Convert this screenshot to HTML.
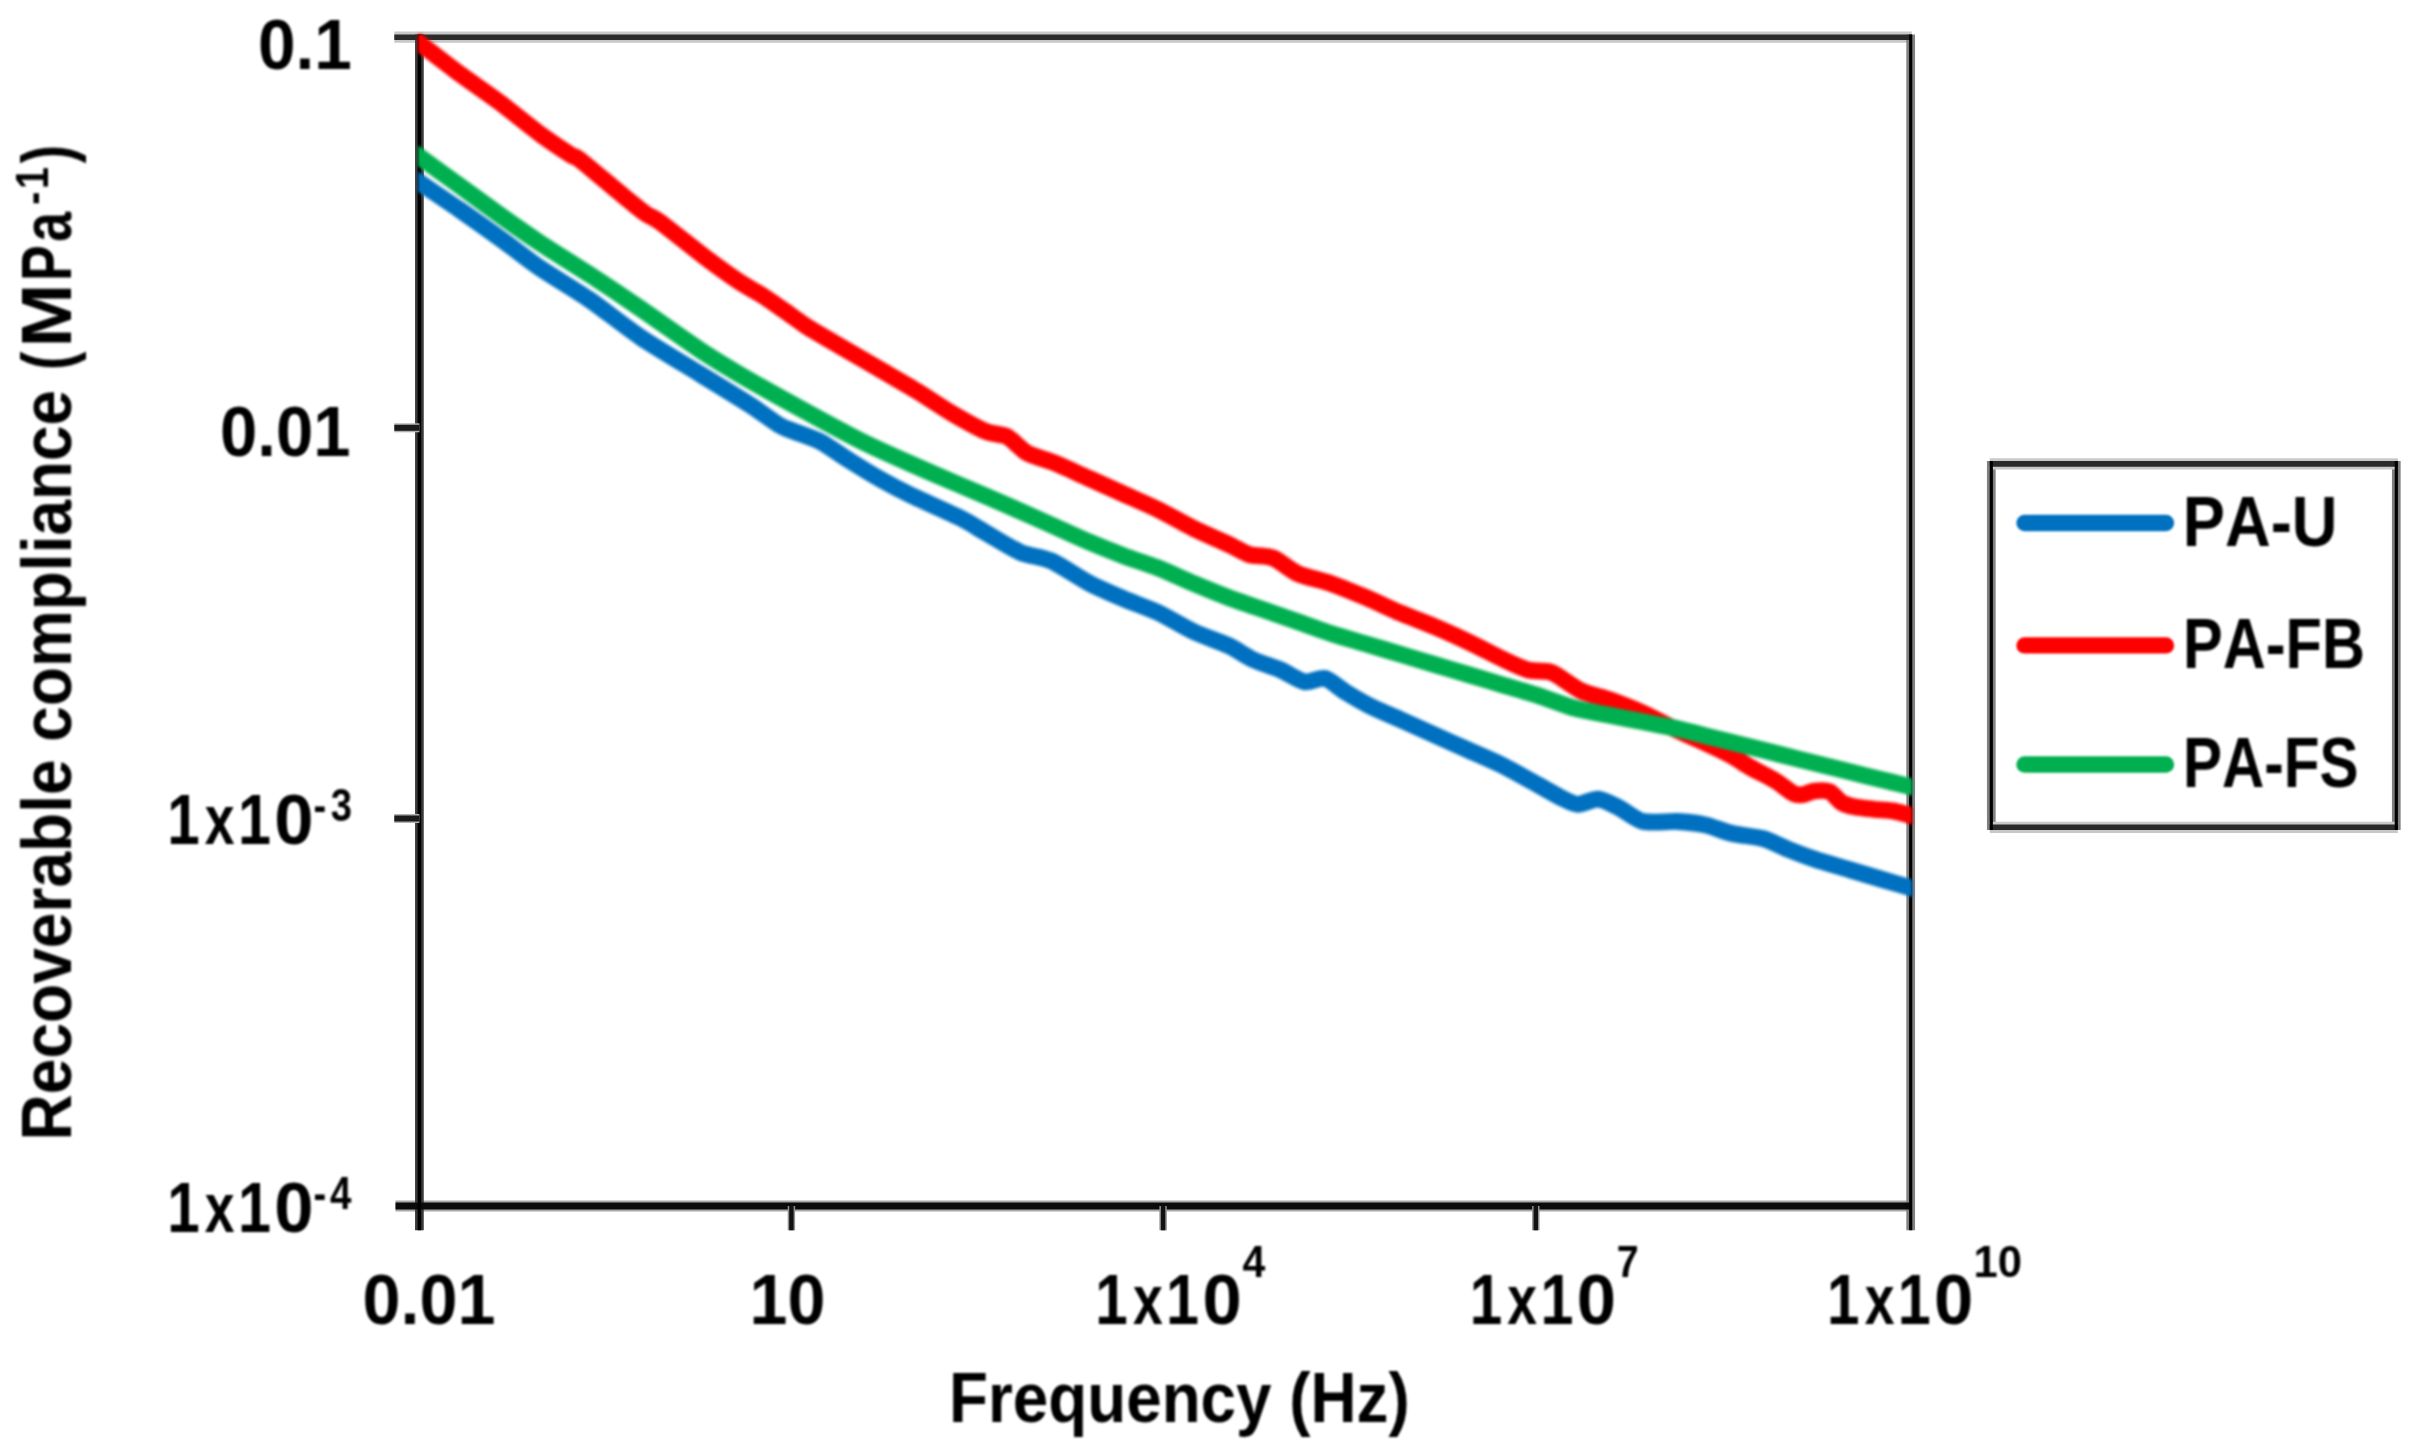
<!DOCTYPE html>
<html><head><meta charset="utf-8"><title>Recoverable compliance vs frequency</title>
<style>
html,body{margin:0;padding:0;background:#fff;}
svg{display:block;}
.soft{filter:blur(1px);}
.softer{filter:blur(1.4px);}
text{font-family:"Liberation Sans","DejaVu Sans",sans-serif;font-weight:bold;fill:#000;font-kerning:none;}
</style></head><body>
<svg width="2415" height="1455" viewBox="0 0 2415 1455">
<rect width="2415" height="1455" fill="#fff"/>
<defs><clipPath id="plot"><rect x="418" y="34" width="1494.3" height="1175"/></clipPath></defs>

<g><line x1="394.3" y1="37.2" x2="1911.8" y2="37.2" stroke="#c8c8c8" stroke-width="11.3"/>
<line x1="395.5" y1="1206" x2="1911.8" y2="1206" stroke="#a8a8a8" stroke-width="11.2"/>
<line x1="419.4" y1="34.6" x2="419.4" y2="1230.3" stroke="#3a3a3a" stroke-width="8.7"/>
<line x1="1910.7" y1="34.6" x2="1910.7" y2="1230.3" stroke="#808080" stroke-width="8.7"/>
<line x1="394.3" y1="37.2" x2="1911.8" y2="37.2" stroke="#2a2a2a" stroke-width="5.6"/>
<line x1="395.5" y1="1206" x2="1911.8" y2="1206" stroke="#0a0a0a" stroke-width="7.2"/>
<line x1="419.4" y1="34.6" x2="419.4" y2="1230.3" stroke="#000" stroke-width="3.6"/>
<line x1="1910.7" y1="34.6" x2="1910.7" y2="1230.3" stroke="#000" stroke-width="3.2"/>
<line x1="394.3" y1="427.8" x2="419.4" y2="427.8" stroke="#b0b0b0" stroke-width="9"/>
<line x1="394.3" y1="427.8" x2="419.4" y2="427.8" stroke="#1a1a1a" stroke-width="6"/>
<line x1="394.3" y1="818.5" x2="419.4" y2="818.5" stroke="#b0b0b0" stroke-width="9"/>
<line x1="394.3" y1="818.5" x2="419.4" y2="818.5" stroke="#1a1a1a" stroke-width="6"/>
<line x1="791.4" y1="1206" x2="791.4" y2="1230.3" stroke="#909090" stroke-width="7.4"/>
<line x1="791.4" y1="1206" x2="791.4" y2="1230.3" stroke="#111" stroke-width="4.4"/>
<line x1="1163.1" y1="1206" x2="1163.1" y2="1230.3" stroke="#909090" stroke-width="7.4"/>
<line x1="1163.1" y1="1206" x2="1163.1" y2="1230.3" stroke="#111" stroke-width="4.4"/>
<line x1="1535.8" y1="1206" x2="1535.8" y2="1230.3" stroke="#909090" stroke-width="7.4"/>
<line x1="1535.8" y1="1206" x2="1535.8" y2="1230.3" stroke="#111" stroke-width="4.4"/></g>

<g class="softer"><g clip-path="url(#plot)" fill="none" stroke-width="16.8" stroke-linejoin="round" stroke-linecap="butt">
<path stroke="#0070C0" d="M400.0,169.1C402.3,170.7 410.4,176.3 418.0,181.5C425.6,186.7 449.2,202.5 460.0,210.0C470.8,217.5 493.0,233.3 503.1,240.6C513.2,247.9 529.0,260.5 540.0,268.0C551.0,275.5 577.3,291.2 590.0,300.0C602.7,308.8 626.6,327.8 640.5,337.2C654.4,346.6 686.1,365.4 700.0,374.0C713.9,382.6 739.9,398.4 750.0,404.9C760.1,411.4 773.6,421.9 780.0,425.6C786.4,429.3 795.4,431.7 800.6,433.8C805.8,435.9 815.1,438.8 821.2,442.1C827.3,445.4 841.3,455.3 848.7,460.0C856.1,464.7 872.2,474.6 880.0,479.0C887.8,483.4 899.9,489.9 910.0,494.8C920.1,499.7 950.3,513.0 960.0,517.8C969.7,522.6 978.5,528.6 986.2,533.0C993.9,537.4 1012.2,548.9 1020.5,552.4C1028.8,555.9 1042.8,557.1 1051.5,561.0C1060.2,564.9 1080.2,578.5 1089.3,583.3C1098.4,588.1 1114.9,595.1 1123.6,598.8C1132.3,602.5 1149.0,608.3 1158.0,612.5C1167.0,616.7 1185.4,627.8 1194.4,632.0C1203.4,636.2 1221.3,642.2 1228.7,645.7C1236.1,649.2 1246.3,656.4 1252.8,659.5C1259.3,662.6 1273.8,667.0 1280.3,669.8C1286.8,672.6 1298.6,680.7 1304.3,681.8C1310.0,682.9 1319.8,677.1 1325.0,678.4C1330.2,679.7 1339.5,688.4 1345.6,692.1C1351.7,695.8 1366.0,704.1 1373.0,707.6C1380.0,711.1 1392.7,716.1 1400.5,719.6C1408.3,723.1 1426.2,731.2 1434.9,735.1C1443.6,739.0 1460.6,746.6 1469.3,750.5C1478.0,754.4 1494.9,761.6 1503.6,766.0C1512.3,770.4 1530.8,780.9 1538.0,784.9C1545.2,788.9 1555.6,794.9 1560.6,797.4C1565.6,799.9 1573.0,804.1 1577.8,804.3C1582.6,804.5 1593.2,798.7 1598.4,799.1C1603.6,799.5 1613.3,804.9 1619.0,807.7C1624.7,810.5 1635.7,819.8 1643.1,821.5C1650.5,823.2 1669.7,821.1 1677.5,821.5C1685.3,821.9 1698.0,823.4 1705.0,824.9C1712.0,826.4 1725.0,831.8 1732.4,833.5C1739.8,835.2 1756.4,836.7 1763.4,838.7C1770.4,840.7 1780.9,846.4 1787.4,849.0C1793.9,851.6 1807.1,856.7 1814.9,859.3C1822.7,861.9 1840.6,867.0 1849.3,869.6C1858.0,872.2 1875.5,877.5 1883.6,879.9C1891.7,882.3 1907.1,886.8 1913.0,888.5C1918.9,890.2 1927.8,892.9 1930.0,893.5"/>
<path stroke="#FF0000" d="M400.0,29.5C402.3,31.1 410.4,36.4 418.0,42.0C425.6,47.6 449.6,66.3 460.0,74.0C470.4,81.7 489.9,95.0 500.0,102.6C510.1,110.2 531.0,127.3 540.0,133.9C549.0,140.5 565.8,151.7 570.9,155.0C576.0,158.3 573.8,155.0 580.0,159.8C586.2,164.6 611.7,186.3 620.0,193.1C628.3,199.9 640.3,209.8 645.4,213.5C650.5,217.2 652.1,216.2 660.0,222.0C667.9,227.8 697.7,251.7 707.8,259.3C717.9,266.9 733.1,277.7 740.0,282.3C746.9,286.9 756.4,291.7 762.0,295.3C767.6,298.9 778.4,306.5 784.0,310.4C789.6,314.3 801.4,322.9 806.0,326.0C810.6,329.1 814.6,331.3 820.0,334.5C825.4,337.7 840.7,346.6 848.7,351.2C856.7,355.8 874.4,366.1 883.1,371.2C891.8,376.3 908.8,386.1 917.5,391.4C926.2,396.7 943.1,408.1 951.8,413.2C960.5,418.3 979.2,428.7 986.2,431.6C993.2,434.5 1001.6,433.7 1006.8,436.4C1012.0,439.1 1021.3,449.8 1027.4,453.2C1033.5,456.6 1047.1,459.8 1054.9,463.0C1062.7,466.2 1080.6,474.6 1089.3,478.5C1098.0,482.4 1114.9,490.1 1123.6,494.0C1132.3,497.9 1149.0,505.1 1158.0,509.5C1167.0,513.9 1185.4,524.5 1194.4,528.9C1203.4,533.3 1221.7,541.0 1228.7,544.3C1235.7,547.6 1243.6,552.9 1249.3,554.6C1255.0,556.3 1267.3,555.7 1273.4,558.1C1279.5,560.5 1290.1,570.2 1297.5,573.5C1304.9,576.8 1323.1,580.7 1331.8,583.8C1340.5,586.9 1357.5,593.9 1366.2,597.6C1374.9,601.3 1391.8,609.4 1400.5,613.1C1409.2,616.8 1426.2,623.1 1434.9,626.8C1443.6,630.5 1460.6,638.2 1469.3,642.3C1478.0,646.4 1496.2,656.0 1503.6,659.5C1511.0,663.0 1522.0,668.3 1527.7,669.8C1533.4,671.3 1544.6,670.8 1548.3,671.5C1552.0,672.2 1553.0,672.9 1557.2,675.4C1561.4,677.9 1574.7,687.8 1581.2,690.9C1587.7,694.0 1600.9,696.7 1608.7,699.5C1616.5,702.3 1634.4,709.3 1643.1,713.2C1651.8,717.1 1668.8,726.3 1677.5,730.4C1686.2,734.5 1704.8,742.6 1711.8,745.9C1718.8,749.2 1727.6,753.5 1732.4,756.2C1737.2,758.9 1744.6,764.0 1750.0,767.1C1755.4,770.2 1769.3,777.1 1774.8,780.4C1780.3,783.7 1790.0,791.7 1793.5,793.5C1797.0,795.3 1799.5,795.0 1802.2,794.7C1804.9,794.4 1811.1,791.4 1814.6,791.0C1818.1,790.6 1826.0,790.1 1829.5,791.6C1833.0,793.1 1838.6,800.8 1841.9,802.8C1845.2,804.8 1851.5,806.3 1855.6,807.1C1859.7,807.9 1869.5,808.8 1874.2,809.3C1878.9,809.8 1888.1,810.1 1892.9,810.9C1897.7,811.7 1907.4,814.6 1912.1,815.8C1916.8,817.0 1927.7,819.9 1930.0,820.5"/>
<path stroke="#00B050" d="M400.0,143.0C402.3,144.6 410.4,150.3 418.0,155.7C425.6,161.1 449.2,178.2 460.0,186.0C470.8,193.8 493.0,210.2 503.1,217.4C513.2,224.6 529.0,235.6 540.0,242.9C551.0,250.2 577.3,266.5 590.0,274.8C602.7,283.1 626.1,298.7 640.0,308.2C653.9,317.7 686.1,340.7 700.0,349.9C713.9,359.1 737.3,373.1 750.0,380.5C762.7,387.9 786.1,400.8 800.0,408.4C813.9,416.0 846.1,433.5 860.0,440.5C873.9,447.5 897.3,457.9 910.0,463.5C922.7,469.1 950.3,481.0 960.0,485.1C969.7,489.2 978.5,492.9 986.2,496.2C993.9,499.5 1011.8,507.3 1020.5,511.2C1029.2,515.1 1046.2,522.7 1054.9,526.6C1063.6,530.5 1080.6,538.4 1089.3,542.1C1098.0,545.8 1114.9,552.5 1123.6,555.8C1132.3,559.1 1149.0,564.4 1158.0,567.9C1167.0,571.4 1185.4,580.0 1194.4,583.8C1203.4,587.6 1220.0,594.3 1228.7,597.6C1237.4,600.9 1254.4,606.6 1263.1,609.6C1271.8,612.6 1288.8,618.5 1297.5,621.6C1306.2,624.7 1323.1,630.9 1331.8,633.7C1340.5,636.5 1357.5,641.4 1366.2,644.0C1374.9,646.6 1391.8,651.7 1400.5,654.3C1409.2,656.9 1426.2,662.0 1434.9,664.6C1443.6,667.2 1460.6,672.3 1469.3,674.9C1478.0,677.5 1494.9,682.6 1503.6,685.2C1512.3,687.8 1529.0,692.6 1538.0,695.5C1547.0,698.4 1565.4,705.6 1574.4,708.1C1583.4,710.6 1600.0,713.3 1608.7,715.0C1617.4,716.7 1634.4,720.1 1643.1,721.8C1651.8,723.5 1668.8,726.7 1677.5,728.7C1686.2,730.7 1703.1,735.1 1711.8,737.3C1720.5,739.5 1737.5,743.7 1746.2,745.9C1754.9,748.1 1771.8,752.3 1780.5,754.5C1789.2,756.7 1806.2,760.9 1814.9,763.1C1823.6,765.3 1840.6,769.4 1849.3,771.6C1858.0,773.8 1875.5,778.2 1883.6,780.2C1891.7,782.2 1907.1,785.7 1913.0,787.1C1918.9,788.5 1927.8,790.6 1930.0,791.1"/>
</g></g>

<g><line x1="1991.3" y1="461.09999999999997" x2="1991.3" y2="830.0999999999999" stroke="#808080" stroke-width="8.7"/>
<line x1="2396.3" y1="461.09999999999997" x2="2396.3" y2="830.0999999999999" stroke="#808080" stroke-width="8.7"/>
<line x1="1989.7" y1="463.9" x2="2397.9" y2="463.9" stroke="#c8c8c8" stroke-width="11.3"/>
<line x1="1989.7" y1="827.3" x2="2397.9" y2="827.3" stroke="#c8c8c8" stroke-width="11.3"/>
<line x1="1989.7" y1="463.9" x2="2397.9" y2="463.9" stroke="#2a2a2a" stroke-width="5.6"/>
<line x1="1989.7" y1="827.3" x2="2397.9" y2="827.3" stroke="#2a2a2a" stroke-width="5.6"/>
<line x1="1991.3" y1="461.09999999999997" x2="1991.3" y2="830.0999999999999" stroke="#000" stroke-width="3.2"/>
<line x1="2396.3" y1="461.09999999999997" x2="2396.3" y2="830.0999999999999" stroke="#000" stroke-width="3.2"/></g>
<g class="soft">
<line x1="2024.5" y1="523" x2="2166" y2="523" stroke="#0070C0" stroke-width="16.3" stroke-linecap="round"/>
<line x1="2024.5" y1="645.4" x2="2166" y2="645.4" stroke="#FF0000" stroke-width="16.3" stroke-linecap="round"/>
<line x1="2024.5" y1="764.5" x2="2166" y2="764.5" stroke="#00B050" stroke-width="16.3" stroke-linecap="round"/>
<text x="2182.77" y="545.5" font-size="70" textLength="154.70" lengthAdjust="spacingAndGlyphs">PA-U</text>
<text x="2183.02" y="667.5" font-size="70" textLength="181.89" lengthAdjust="spacingAndGlyphs">PA-FB</text>
<text x="2183.09" y="787.2" font-size="70" textLength="175.50" lengthAdjust="spacingAndGlyphs">PA-FS</text>
<text x="257.93" y="68.5" font-size="70" textLength="93.85" lengthAdjust="spacingAndGlyphs">0.1</text>
<text x="220.05" y="455.5" font-size="70" textLength="130.52" lengthAdjust="spacingAndGlyphs">0.01</text>
<text x="167.22" y="844.3" font-size="70" textLength="32.51" lengthAdjust="spacingAndGlyphs">1</text><text x="204.83" y="844.3" font-size="70" textLength="29.76" lengthAdjust="spacingAndGlyphs">x</text><text x="237.96" y="844.3" font-size="70" textLength="32.99" lengthAdjust="spacingAndGlyphs">1</text><text x="274.31" y="844.3" font-size="70" textLength="39.29" lengthAdjust="spacingAndGlyphs">0</text>
<text x="313.41" y="821.3" font-size="47" textLength="12.72" lengthAdjust="spacingAndGlyphs">-</text><text x="330.72" y="821.3" font-size="47" textLength="21.26" lengthAdjust="spacingAndGlyphs">3</text>
<text x="167.22" y="1232.3" font-size="70" textLength="32.51" lengthAdjust="spacingAndGlyphs">1</text><text x="204.83" y="1232.3" font-size="70" textLength="29.76" lengthAdjust="spacingAndGlyphs">x</text><text x="237.96" y="1232.3" font-size="70" textLength="32.99" lengthAdjust="spacingAndGlyphs">1</text><text x="274.31" y="1232.3" font-size="70" textLength="39.29" lengthAdjust="spacingAndGlyphs">0</text>
<text x="313.41" y="1208.7" font-size="47" textLength="12.72" lengthAdjust="spacingAndGlyphs">-</text><text x="330.02" y="1208.7" font-size="47" textLength="21.39" lengthAdjust="spacingAndGlyphs">4</text>
<text x="362.40" y="1324.3" font-size="70" textLength="133.11" lengthAdjust="spacingAndGlyphs">0.01</text>
<text x="749.60" y="1324.3" font-size="70" textLength="75.90" lengthAdjust="spacingAndGlyphs">10</text>
<text x="1095.32" y="1324.3" font-size="70" textLength="32.51" lengthAdjust="spacingAndGlyphs">1</text><text x="1132.93" y="1324.3" font-size="70" textLength="29.76" lengthAdjust="spacingAndGlyphs">x</text><text x="1166.06" y="1324.3" font-size="70" textLength="32.99" lengthAdjust="spacingAndGlyphs">1</text><text x="1202.41" y="1324.3" font-size="70" textLength="39.29" lengthAdjust="spacingAndGlyphs">0</text>
<text x="1242.38" y="1276.8" font-size="44" textLength="22.84" lengthAdjust="spacingAndGlyphs">4</text>
<text x="1469.72" y="1324.3" font-size="70" textLength="32.51" lengthAdjust="spacingAndGlyphs">1</text><text x="1507.33" y="1324.3" font-size="70" textLength="29.76" lengthAdjust="spacingAndGlyphs">x</text><text x="1540.46" y="1324.3" font-size="70" textLength="32.99" lengthAdjust="spacingAndGlyphs">1</text><text x="1576.81" y="1324.3" font-size="70" textLength="39.29" lengthAdjust="spacingAndGlyphs">0</text>
<text x="1616.81" y="1276.8" font-size="44" textLength="21.93" lengthAdjust="spacingAndGlyphs">7</text>
<text x="1827.02" y="1324.3" font-size="70" textLength="32.51" lengthAdjust="spacingAndGlyphs">1</text><text x="1864.63" y="1324.3" font-size="70" textLength="29.76" lengthAdjust="spacingAndGlyphs">x</text><text x="1897.76" y="1324.3" font-size="70" textLength="32.99" lengthAdjust="spacingAndGlyphs">1</text><text x="1934.11" y="1324.3" font-size="70" textLength="39.29" lengthAdjust="spacingAndGlyphs">0</text>
<text x="1973.55" y="1277.0" font-size="44" textLength="48.54" lengthAdjust="spacingAndGlyphs">10</text>
<text x="948.93" y="1422.3" font-size="70" textLength="460.85" lengthAdjust="spacingAndGlyphs">Frequency (Hz)</text>
<g transform="translate(71.0,1137.3) rotate(-90)"><text x="-3.29" y="0" font-size="70" textLength="381.18" lengthAdjust="spacingAndGlyphs">Recoverable</text>
<text x="395.60" y="0" font-size="70" textLength="351.78" lengthAdjust="spacingAndGlyphs">compliance</text>
<text x="767.15" y="0" font-size="70" textLength="18.41" lengthAdjust="spacingAndGlyphs">(</text><text x="789.76" y="0" font-size="70" textLength="63.97" lengthAdjust="spacingAndGlyphs">M</text><text x="856.31" y="0" font-size="70" textLength="35.83" lengthAdjust="spacingAndGlyphs">P</text><text x="895.43" y="0" font-size="70" textLength="29.83" lengthAdjust="spacingAndGlyphs">a</text><text x="932.56" y="-23.5" font-size="47" textLength="13.12" lengthAdjust="spacingAndGlyphs">-</text><text x="948.31" y="-23.5" font-size="47" textLength="21.99" lengthAdjust="spacingAndGlyphs">1</text><text x="973.95" y="0" font-size="70" textLength="18.41" lengthAdjust="spacingAndGlyphs">)</text></g>
</g>
</svg></body></html>
